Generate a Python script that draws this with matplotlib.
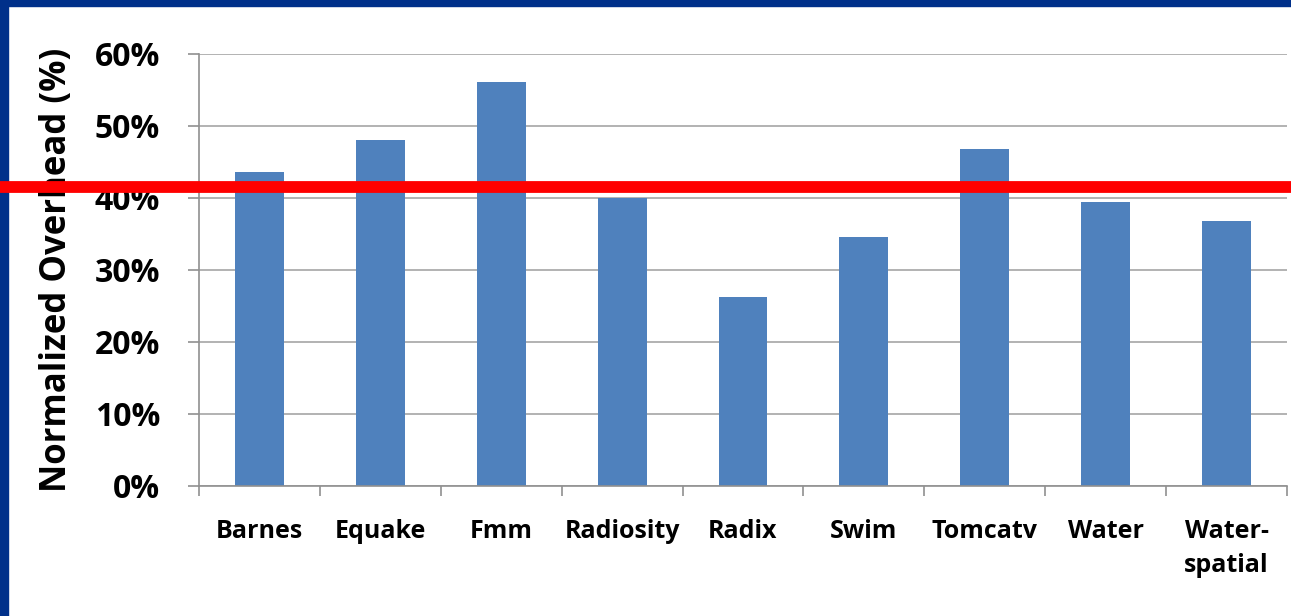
import numpy as np
import matplotlib
matplotlib.use("Agg")
import matplotlib.pyplot as plt
from matplotlib.patches import Rectangle

# data
benchmarks = ["Barnes", "Equake", "Fmm", "Radiosity", "Radix",
              "Swim", "Tomcatv", "Water", "Water-\nspatial"]
overhead = [43.6, 48.1, 56.1, 40.0, 26.3, 34.6, 46.8, 39.4, 36.8]
average_line = 41.5
yticks = [0, 10, 20, 30, 40, 50, 60]

plt.rcParams['font.family'] = ['Open Sans', 'DejaVu Sans']

fig = plt.figure(figsize=(12.91, 6.16), dpi=100)
ax = fig.add_axes([199 / 1291, 1 - 486 / 616, 1088 / 1291, 432 / 616])

x = np.arange(len(benchmarks))
ax.bar(x, overhead, width=0.405, color="#4F81BD", zorder=2)

ax.set_xlim(-0.5, len(benchmarks) - 0.5)
ax.set_ylim(0, 60)
ax.set_yticks(yticks)
ax.set_yticklabels([f"{v}%" for v in yticks], fontsize=23, fontweight="bold")
ax.yaxis.grid(True, color="#a6a6a6", linewidth=1.2, zorder=0)
ax.set_axisbelow(True)

ax.set_xticks(x)
ax.set_xticklabels(benchmarks, fontsize=18, fontweight="bold", linespacing=1.45)
ax.set_xticks(np.arange(len(benchmarks) + 1) - 0.5, minor=True)
ax.tick_params(axis="x", which="major", length=0, pad=24)
ax.tick_params(axis="x", which="minor", length=7, color="#909090", width=1.2)
ax.tick_params(axis="y", length=8, color="#909090", width=1.2, pad=20)

for side in ["top", "right"]:
    ax.spines[side].set_visible(False)
for side in ["left", "bottom"]:
    ax.spines[side].set_color("#909090")
    ax.spines[side].set_linewidth(1.2)

ax.set_ylabel("Normalized Overhead (%)", fontsize=25, fontweight="bold", labelpad=14)

# red reference line across the whole slide
ax.axhline(average_line, xmin=-199 / 1088, xmax=1 + 4 / 1088, color="#FF0000",
           linewidth=8.5, clip_on=False, zorder=5)

# slide border
fig.patches.append(Rectangle((0, 1 - 6 / 616), 1, 6 / 616, transform=fig.transFigure,
                             color="#00308A", zorder=-1))
fig.patches.append(Rectangle((0, 0), 8 / 1291, 1, transform=fig.transFigure,
                             color="#00308A", zorder=-1))

plt.savefig("out.png", dpi=100)
